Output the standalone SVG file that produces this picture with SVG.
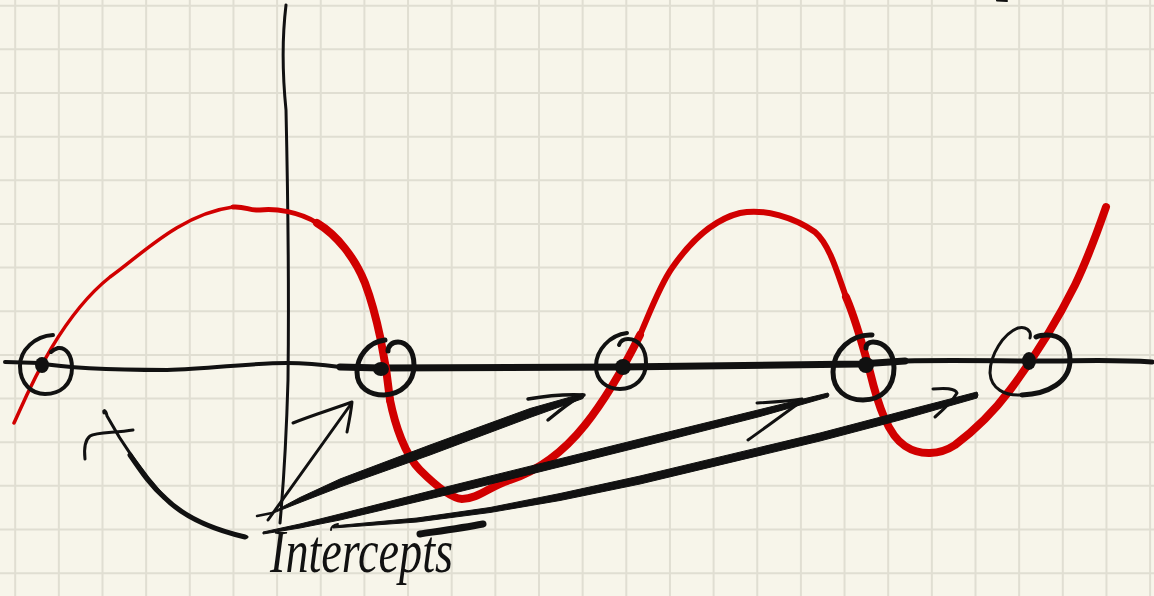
<svg xmlns="http://www.w3.org/2000/svg" width="1154" height="596" viewBox="0 0 1154 596">
<defs>
<style>
.bg{fill:#f7f5ea}
.grid{fill:none;stroke:#e0ded2;stroke-width:2}
.ink{fill:none;stroke:#111;stroke-linecap:round;stroke-linejoin:round}
.red{fill:none;stroke:#d10000;stroke-linecap:round;stroke-linejoin:round}
.dot{fill:#111}
.taper{fill:#111;stroke:#111;stroke-width:1;stroke-linejoin:round}
.hand{font-family:"Liberation Serif","DejaVu Serif",serif;font-style:italic;font-size:62px;fill:#111}
</style>
</defs>
<rect class="bg" x="0" y="0" width="1154" height="596"/>
<g id="grid">
<path class="grid" d="M15.2,0V596M58.85,0V596M102.5,0V596M146.15,0V596M189.8,0V596M233.45,0V596M277.1,0V596M320.75,0V596M364.4,0V596M408.05,0V596M451.7,0V596M495.35,0V596M539,0V596M582.65,0V596M626.3,0V596M669.95,0V596M713.6,0V596M757.25,0V596M800.9,0V596M844.55,0V596M888.2,0V596M931.85,0V596M975.5,0V596M1019.15,0V596M1062.8,0V596M1106.45,0V596M1150.1,0V596"/>
<path class="grid" d="M0,5.7H1154M0,49.35H1154M0,93H1154M0,136.65H1154M0,180.3H1154M0,223.95H1154M0,267.6H1154M0,311.25H1154M0,354.9H1154M0,398.55H1154M0,442.2H1154M0,485.85H1154M0,529.5H1154M0,573.15H1154"/>
</g>
<g id="axes">
<path class="ink" stroke-width="3" d="M286,5 C283,30 282,70 286,110 C288,200 289,300 288,380 C286,450 283,490 280,523"/>
<path class="ink" stroke-width="4" d="M5,362 L40,363 C60,367 100,370 167,370 C210,369 250,363 287,363 C310,363 325,365 340,367"/>
<path class="ink" stroke-width="7" d="M340,367 L380,368 L620,367 L860,364 L905,361"/>
<path class="ink" stroke-width="5" d="M905,361 C950,360 1000,361 1040,361 C1080,361 1110,359 1152,362"/>
<path class="ink" stroke-width="2" d="M997,0.5 L1007,1"/>
</g>
<g id="curve">
<path class="red" stroke-width="3.5" d="M14,423 C24,402 56,320 110,277 C140,256 180,214 233,207"/>
<path class="red" stroke-width="5" d="M233,207 C245,206 250,211 260,210 C275,208 300,212 317,223"/>
<path class="red" stroke-width="8" d="M317,223 C337,235 355,258 365,283 C377,315 386,360 390,400"/>
<path class="red" stroke-width="8" d="M390,400 C395,425 405,455 420,470 C435,485 450,498 462,499 C478,499 490,486 510,480 C540,470 565,450 585,425 C605,400 625,365 640,335"/>
<path class="red" stroke-width="6" d="M640,335 C650,312 660,285 672,268 C690,242 712,220 740,213 C765,208 795,218 815,232 C830,245 838,275 846,297"/>
<path class="red" stroke-width="8" d="M846,297 C856,320 864,350 870,372 C878,405 888,435 905,446 C920,456 940,455 955,445 C975,430 995,410 1010,390 C1040,350 1060,315 1075,285 C1088,258 1098,230 1106,207"/>
</g>
<g id="intercept-1">
<path class="ink" stroke-width="4" d="M53,335 C35,336 20,350 20,366 C20,384 32,394 45,394 C60,394 72,385 72,368 C72,355 66,347 58,348 C55,349 52,351 51,352"/>
<ellipse class="dot" cx="42" cy="365" rx="7" ry="8"/>
</g>
<g id="intercept-2">
<path class="ink" stroke-width="5" d="M385,340 C368,342 357,357 357,372 C357,388 370,395 384,395 C402,394 414,382 414,365 C414,350 406,342 398,342 C392,342 388,346 388,351"/>
<ellipse class="dot" cx="381" cy="369" rx="8" ry="7"/>
</g>
<g id="intercept-3">
<path class="ink" stroke-width="4" d="M627,333 C610,335 596,350 596,366 C596,381 607,389 620,389 C635,389 646,378 646,363 C646,348 638,339 628,339 C623,339 620,342 619,345"/>
<circle class="dot" cx="623" cy="367" r="8"/>
</g>
<g id="intercept-4">
<path class="ink" stroke-width="5" d="M872,335 C852,334 833,350 833,372 C833,390 846,400 863,400 C882,400 894,387 894,368 C894,352 884,342 873,342 C868,342 866,345 866,348"/>
<circle class="dot" cx="866" cy="365" r="8"/>
</g>
<g id="intercept-5">
<path class="ink" stroke-width="3" d="M1030,338 C1032,330 1025,326 1018,328 C1003,334 990,355 990,373 C991,389 1005,396 1022,395"/>
<path class="ink" stroke-width="5" d="M1022,395 C1048,394 1070,382 1070,360 C1070,343 1060,335 1047,335 C1042,335 1038,336 1036,337"/>
<ellipse class="dot" cx="1029" cy="361" rx="7" ry="9"/>
</g>
<g id="label-x">
<path class="ink" stroke-width="3" d="M85,459 C84,450 85,440 90,436 C96,432 115,433 133,430"/>
</g>
<g id="label-intercepts">
<text class="hand" x="270" y="572" textLength="183" lengthAdjust="spacingAndGlyphs">Intercepts</text>
<path class="ink" stroke-width="7" d="M420,534 C440,531 462,528 483,524"/>
</g>
<g id="connectors">
<path class="ink" stroke-width="3" d="M104,413 C103,409 106,410 107,416 C120,440 140,470 165,498 C185,518 215,530 247,537"/>
<path class="ink" stroke-width="5" d="M130,455 C143,474 152,487 165,498 C185,518 215,530 245,537"/>
<path class="ink" stroke-width="2.5" d="M257,516 L272,513"/>
<path class="ink" stroke-width="3" d="M268,520 L351,404"/>
<path class="ink" stroke-width="3" d="M293,423 C310,416 330,410 352,402 M352,402 C351,412 349,422 347,432"/>
<path class="taper" d="M272,512.5 L300,497.5 L340,479 L430,445 L530,408.5 L583,393.5 L584,396 L583,398.5 L530,417.5 L430,455 L340,487 L300,502.5 L272,513.5 Z"/>
<path class="ink" stroke-width="3.5" d="M528,399 C545,396 565,394 584,395 M548,420 C558,412 566,405 576,399"/>
<path class="taper" d="M263,532 L300,524 L340,514 L450,486 L640,439 L760,409.5 L828,393 L829,395 L828,397 L760,416.5 L640,447 L450,494 L340,520 L300,528 L263,534 Z"/>
<path class="ink" stroke-width="3" d="M757,403 C775,402 790,401 802,399 M748,440 C765,428 785,413 802,401"/>
<path class="taper" d="M333,526 L417,518 L490,507.5 L560,493.5 L640,476 L820,433 L900,412 L977,392 L978,395 L977,398 L900,420 L820,441 L640,484 L560,500.5 L490,512.5 L417,522 L333,528 Z"/>
<path class="ink" stroke-width="2" d="M331,530 C331,527 333,525 338,524"/>
<path class="ink" stroke-width="3" d="M933,389 C945,388 955,388 957,393 C952,402 943,410 935,417"/>
</g>
</svg>
